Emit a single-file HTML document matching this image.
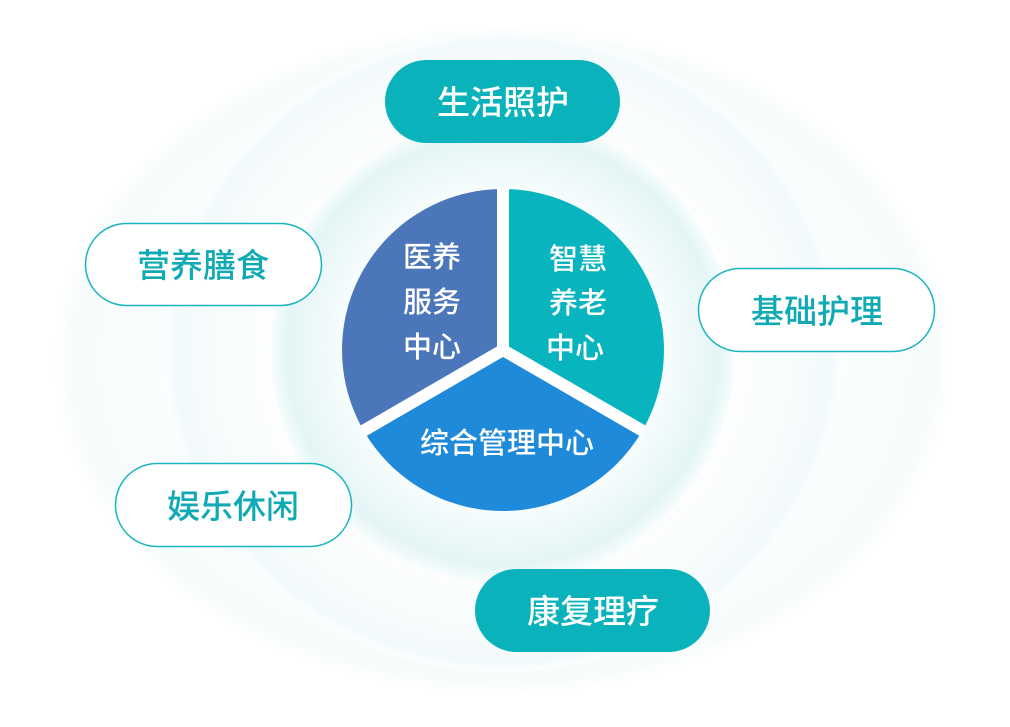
<!DOCTYPE html>
<html><head><meta charset="utf-8"><style>
html,body{margin:0;padding:0;background:#fff;}
svg{display:block;}
text{font-family:"Liberation Sans","Noto Sans CJK SC",sans-serif;font-weight:500;}
</style></head><body>
<svg width="1010" height="727" viewBox="0 0 1010 727" xmlns="http://www.w3.org/2000/svg">
<defs>
<radialGradient id="g1" cx="0.5" cy="0.5" r="0.5">
<stop offset="0.6" stop-color="#ffffff"/><stop offset="0.95" stop-color="#f6fbfc"/><stop offset="1" stop-color="#ffffff"/></radialGradient>
<radialGradient id="g2" cx="0.5" cy="0.5" r="0.5">
<stop offset="0.7" stop-color="#fdfefe"/><stop offset="0.97" stop-color="#f3fafb"/><stop offset="1" stop-color="#fbfefe"/></radialGradient>
<radialGradient id="g3" cx="0.5" cy="0.5" r="0.5">
<stop offset="0.7" stop-color="#f6fcfc"/><stop offset="0.93" stop-color="#e4f5f6"/><stop offset="1" stop-color="#f7fcfd"/></radialGradient>
</defs>
<rect width="1010" height="727" fill="#fff"/>
<ellipse cx="503" cy="360" rx="450" ry="335" fill="url(#g1)"/>
<ellipse cx="503" cy="352" rx="338" ry="320" fill="url(#g2)"/>
<circle cx="503" cy="350" r="232" fill="url(#g3)"/>
<g transform="translate(503,350)">
<path d="M0,0 L0,-161 A161,161 0 0 1 139.4,80.5 Z" fill="#08b4bd"/>
<path d="M0,0 L139.4,80.5 A161,161 0 0 1 -139.4,80.5 Z" fill="#1f89da"/>
<path d="M0,0 L-139.4,80.5 A161,161 0 0 1 0,-161 Z" fill="#4b76b9"/>
<line x1="0" y1="0" x2="0" y2="-162" stroke="#fff" stroke-width="12"/>
<line x1="0" y1="0" x2="140" y2="81" stroke="#fff" stroke-width="12"/>
<line x1="0" y1="0" x2="-140" y2="81" stroke="#fff" stroke-width="12"/>
</g>
<g fill="#fff" font-size="29" text-anchor="middle">
<text x="432" y="267">医养</text><text x="432" y="312">服务</text><text x="432" y="357">中心</text>
<text x="578" y="269">智慧</text><text x="578" y="313">养老</text><text x="575" y="358">中心</text>
<text x="507" y="453">综合管理中心</text>
</g>
<g font-size="33" text-anchor="middle">
<rect x="385" y="60" width="235" height="83" rx="41.5" fill="#0ab3bb"/>
<text x="503" y="114" fill="#fff">生活照护</text>
<rect x="475" y="569" width="235" height="83" rx="41.5" fill="#0ab3bb"/>
<text x="593" y="623" fill="#fff">康复理疗</text>
<rect x="85.5" y="223.5" width="236" height="82" rx="41" fill="#fff" stroke="#1ab5bd" stroke-width="1.5"/>
<text x="203" y="277" fill="#10aab4">营养膳食</text>
<rect x="698.5" y="268.5" width="236" height="83" rx="41.5" fill="#fff" stroke="#1ab5bd" stroke-width="1.5"/>
<text x="817" y="323" fill="#10aab4">基础护理</text>
<rect x="115.5" y="463.5" width="236" height="83" rx="41.5" fill="#fff" stroke="#1ab5bd" stroke-width="1.5"/>
<text x="233" y="518" fill="#10aab4">娱乐休闲</text>
</g>
</svg>
</body></html>
